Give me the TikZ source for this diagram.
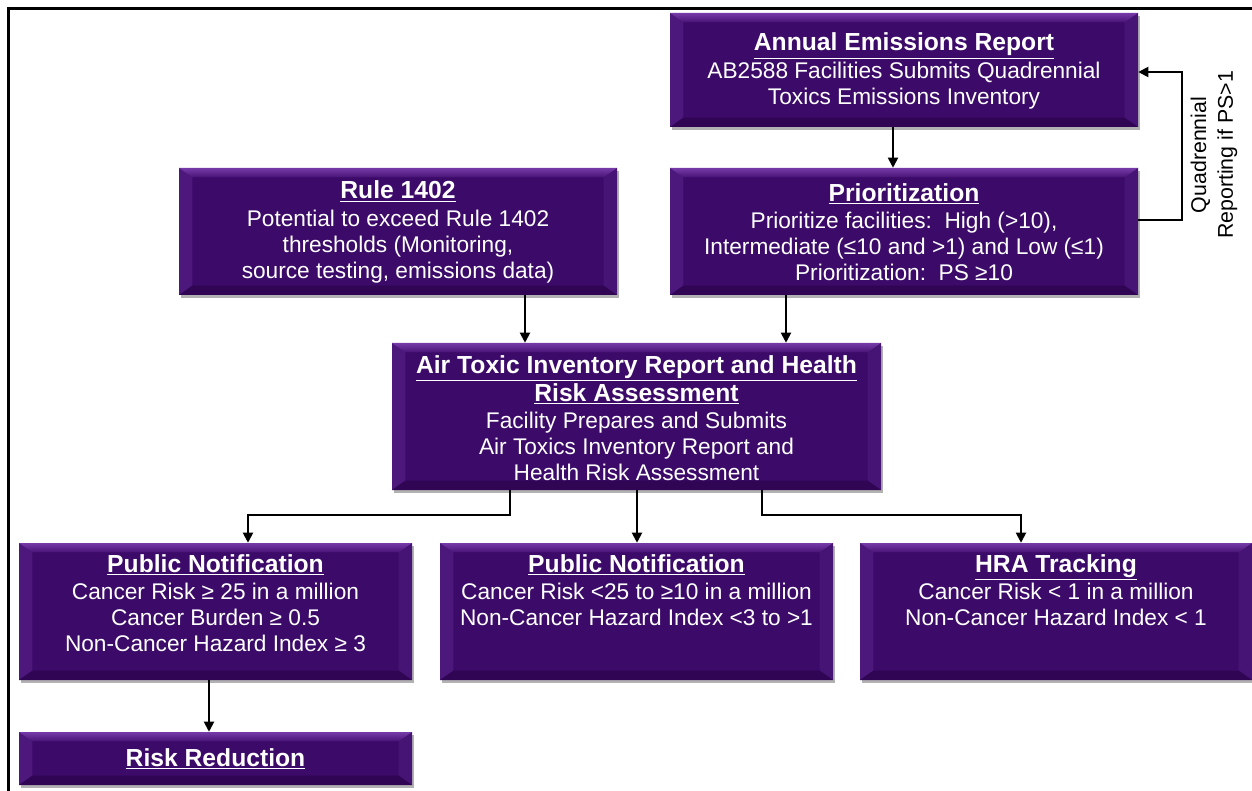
\documentclass[tikz,border=0pt]{standalone}
\usepackage{fontspec}
\setmainfont{Liberation Sans}
\usetikzlibrary{calc,arrows.meta,shadows}
\definecolor{boxmid}{RGB}{60,10,104}
\definecolor{bvtop}{RGB}{118,58,168}
\definecolor{bvleft}{RGB}{76,24,124}
\definecolor{bvright}{RGB}{70,20,116}
\definecolor{bvbot}{RGB}{48,6,84}
\newcommand\boxtitle[1]{{\fontsize{18.5}{21}\selectfont\bfseries\underline{#1}}}
\tikzset{
  bx/.style 2 args={draw=none, fill=boxmid, inner sep=0pt,
    minimum width=#1*0.75pt, minimum height=#2*0.75pt,
    drop shadow={shadow xshift=1.5pt, shadow yshift=-2pt, opacity=0.3, fill=black},
    path picture={
      \fill[bvleft] (path picture bounding box.north west) -- ([shift={(10pt,-7pt)}]path picture bounding box.north west) -- ([shift={(10pt,7pt)}]path picture bounding box.south west) -- (path picture bounding box.south west) -- cycle;
      \fill[bvright] (path picture bounding box.north east) -- ([shift={(-10pt,-7pt)}]path picture bounding box.north east) -- ([shift={(-10pt,7pt)}]path picture bounding box.south east) -- (path picture bounding box.south east) -- cycle;
      \shade[top color=bvtop, bottom color=boxmid!80!bvtop] (path picture bounding box.north west) -- (path picture bounding box.north east) -- ([shift={(-10pt,-7pt)}]path picture bounding box.north east) -- ([shift={(10pt,-7pt)}]path picture bounding box.north west) -- cycle;
      \fill[bvbot] (path picture bounding box.south west) -- (path picture bounding box.south east) -- ([shift={(-10pt,7pt)}]path picture bounding box.south east) -- ([shift={(10pt,7pt)}]path picture bounding box.south west) -- cycle;
    }},
  txt/.style={text=white, align=center, inner sep=0pt, font=\fontsize{17}{19.5}\selectfont},
  arr/.style={line width=1.4pt, -{Triangle[length=7.5pt,width=7.5pt]}},
}
\begin{document}
\begin{tikzpicture}[x=0.75pt, y=-0.75pt]
\useasboundingbox (0,0) rectangle (1252,791);
\fill[white] (0,0) rectangle (1252,791);
\draw[line width=2.25pt] (8,791) -- (8,9) -- (1252,9);

% boxes
\node[bx={468}{114}] (ann) at (904,70) {};
\node[bx={468}{127}] (pri) at (904,231.5) {};
\node[bx={438}{127}] (rule) at (398,231.5) {};
\node[bx={489}{147}] (air) at (636.5,416.5) {};
\node[bx={393}{137}] (pn1) at (215.5,611.5) {};
\node[bx={393}{137}] (pn2) at (636.5,611.5) {};
\node[bx={392}{137}] (hra) at (1056,611.5) {};
\node[bx={393}{53}] (risk) at (215.5,758.5) {};

% texts
\node[txt] (annT) at (904,71) {\boxtitle{Annual Emissions Report}\\[1pt]AB2588 Facilities Submits Quadrennial\\Toxics Emissions Inventory};
\node[txt] (priT) at (904,232) {\boxtitle{Prioritization}\\[1pt]Prioritize facilities:\ \ High (>10),\\Intermediate (≤10 and >1) and Low (≤1)\\Prioritization:\ \ PS ≥10};
\node[txt] (ruleT) at (398,232) {\boxtitle{Rule 1402}\\[1pt]Potential to exceed Rule 1402\\thresholds (Monitoring,\\source testing, emissions data)};
\node[txt] (airT) at (636.5,418) {\boxtitle{Air Toxic Inventory Report and Health}\\[1.5pt]\boxtitle{Risk Assessment}\\[1pt]Facility Prepares and Submits\\Air Toxics Inventory Report and\\Health Risk Assessment};
\node[txt] (pn1T) at (215.5,603) {\boxtitle{Public Notification}\\[1pt]Cancer Risk ≥ 25 in a million\\Cancer Burden ≥ 0.5\\Non-Cancer Hazard Index ≥ 3};
\node[txt] (pn2T) at (636.5,590) {\boxtitle{Public Notification}\\[1pt]Cancer Risk <25 to ≥10 in a million\\Non-Cancer Hazard Index <3 to >1};
\node[txt] (hraT) at (1056,590) {\boxtitle{HRA Tracking}\\[1pt]Cancer Risk < 1 in a million\\Non-Cancer Hazard Index < 1};
\node[txt] (riskT) at (215.5,759) {\boxtitle{Risk Reduction}};

% connector anchors
\coordinate (c1) at ($(ann.south)+(-11,0)$);
\coordinate (c2) at ($(rule.south)+(127,0)$);
\coordinate (c3) at ($(pri.south)+(-118,0)$);
\coordinate (c4) at ($(air.south)+(-126.5,0)$);
\coordinate (c4e) at ($(pn1.north)+(32.5,0)$);
\coordinate (c5) at ($(air.south)+(125.5,0)$);
\coordinate (c5e) at ($(hra.north)+(-35,0)$);
\coordinate (c6) at ($(pn1.south)+(-6.5,0)$);
\coordinate (c7) at ($(air.south)+(0.5,0)$);
\coordinate (lp1) at ($(pri.east)+(0,-11.5)$);
\coordinate (lp2) at ($(ann.east)+(0,2)$);

\draw[arr] (c1) -- (c1 |- pri.north);
\draw[arr] (lp1) -- ++(44,0) |- (lp2);
\draw[arr] (c2) -- (c2 |- air.north);
\draw[arr] (c3) -- (c3 |- air.north);
\draw[arr] (c4) -- ++(0,25) -| (c4e);
\draw[arr] (c7) -- (c7 |- pn2.north);
\draw[arr] (c5) -- ++(0,25) -| (c5e);
\draw[arr] (c6) -- (c6 |- risk.north);

\node[txt, text=black, rotate=90, font=\fontsize{16}{20}\selectfont] (qlab) at (1214,155) {Quadrennial\\Reporting if PS>1};
\end{tikzpicture}
\end{document}
